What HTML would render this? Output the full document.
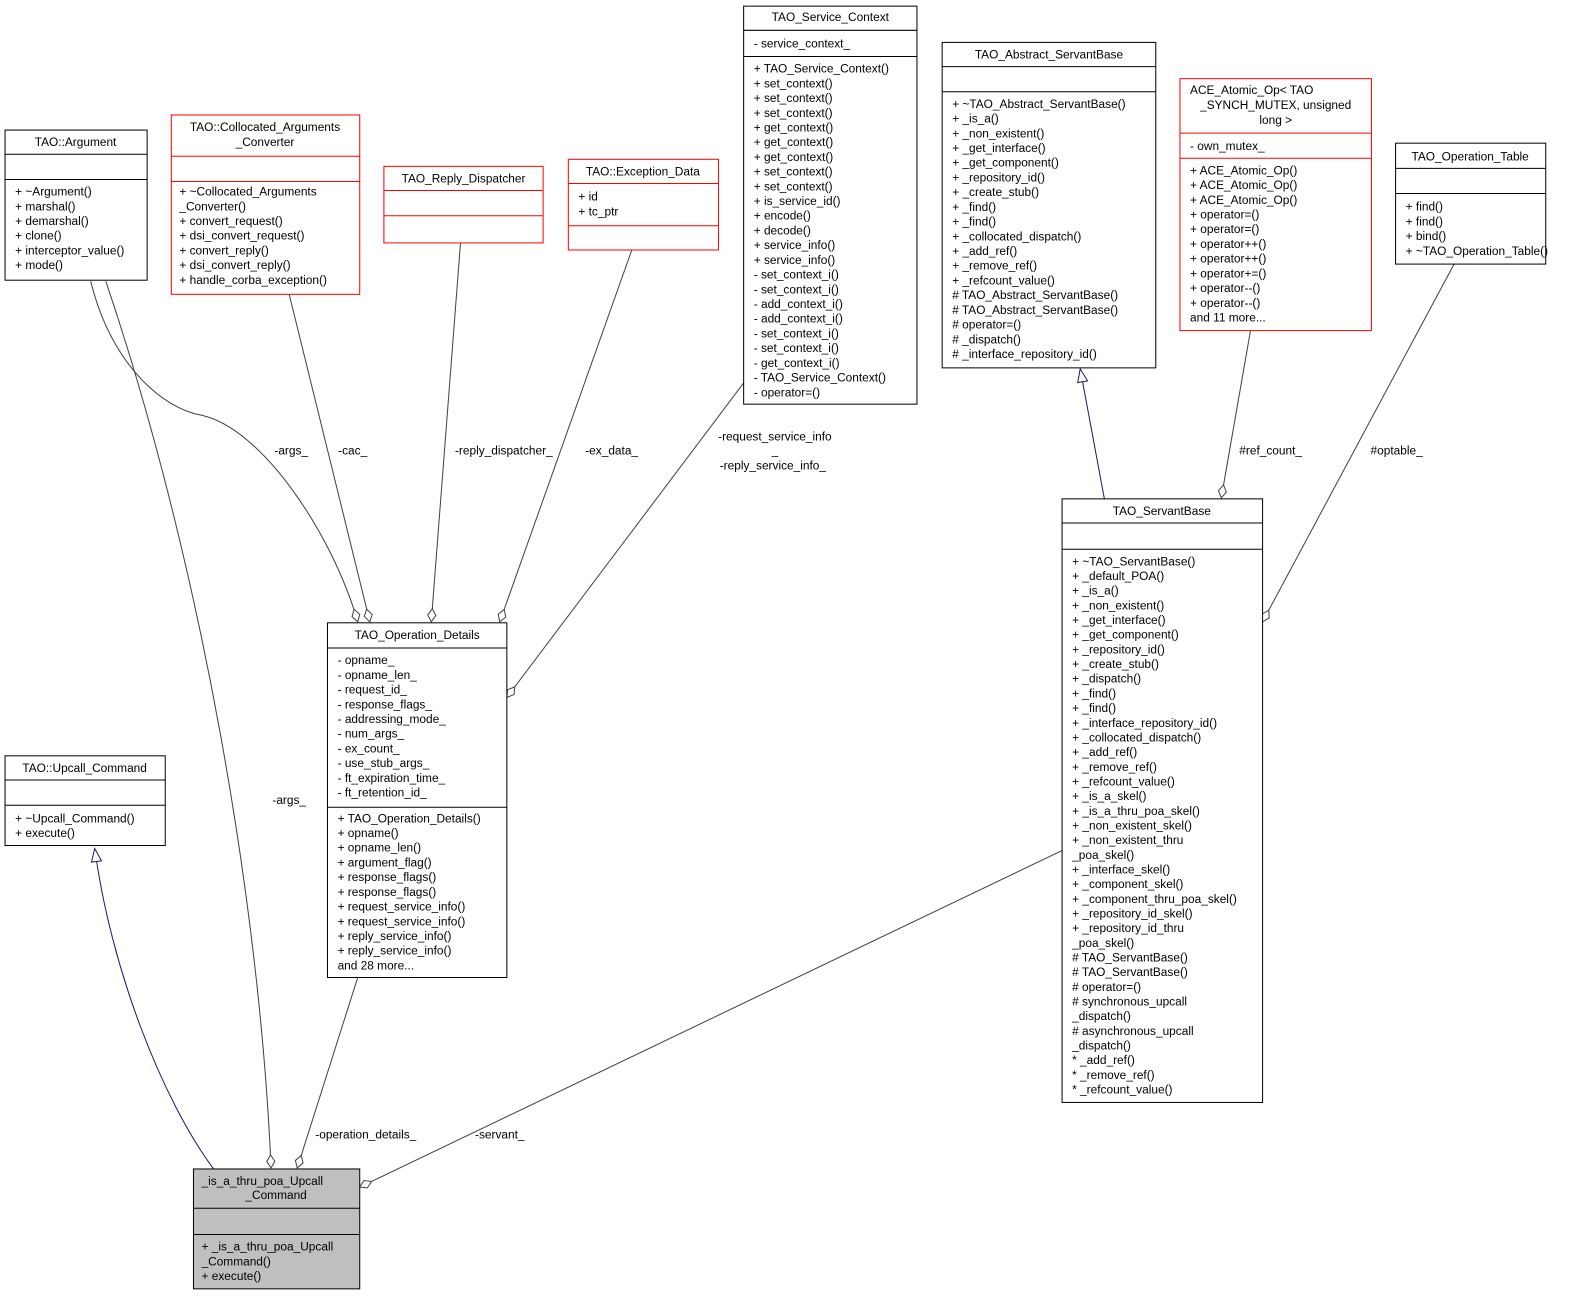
<!DOCTYPE html>
<html><head><meta charset="utf-8"><style>
html,body{margin:0;padding:0;background:#fff;}
svg{display:block;}
text{font-family:"Liberation Sans",sans-serif;font-size:11.8px;fill:#000;}
.c{text-anchor:middle;}
</style></head><body>
<svg width="1580" height="1296" viewBox="0 0 1568 1286" xmlns="http://www.w3.org/2000/svg">
<defs>
<marker id="dm" markerWidth="16" markerHeight="10" refX="14" refY="5" orient="auto" markerUnits="userSpaceOnUse"><path d="M1,5 L7.5,1 L14,5 L7.5,9 Z" fill="#fff" stroke="#404040" stroke-width="1"/></marker>
<marker id="tr" markerWidth="16" markerHeight="12" refX="14" refY="6" orient="auto" markerUnits="userSpaceOnUse"><path d="M1,1 L14,6 L1,11 Z" fill="#fff" stroke="#191970" stroke-width="1"/></marker>
</defs>
<g fill="none" stroke-width="1">
<path d="M212,1160 C160,1090 110,960 94,842" stroke="#191970" marker-end="url(#tr)"/>
<path d="M1096,495 L1072,366" stroke="#191970" marker-end="url(#tr)"/>
<g stroke="#404040">
<path d="M105,279 C200,560 258,900 269,1159" marker-end="url(#dm)"/>
<path d="M90,279 C110,360 160,405 200,412 C260,425 330,530 355,617" marker-end="url(#dm)"/>
<path d="M287,292 L367,617" marker-end="url(#dm)"/>
<path d="M457,241 L428,617" marker-end="url(#dm)"/>
<path d="M627,248 L496,617" marker-end="url(#dm)"/>
<path d="M738,380 L503,692" marker-end="url(#dm)"/>
<path d="M1241,328 L1212,494" marker-end="url(#dm)"/>
<path d="M1443,262 L1253,617" marker-end="url(#dm)"/>
<path d="M1054,844 L357,1178" marker-end="url(#dm)"/>
<path d="M355,970 L295,1159" marker-end="url(#dm)"/>
</g>
</g>
<text x="287" y="798" class="c">-args_</text>
<text x="289" y="451" class="c">-args_</text>
<text x="350" y="451" class="c">-cac_</text>
<text x="500" y="451" class="c">-reply_dispatcher_</text>
<text x="607" y="451" class="c">-ex_data_</text>
<text x="769" y="437" class="c">-request_service_info</text>
<text x="769" y="451" class="c">_</text>
<text x="767" y="466" class="c">-reply_service_info_</text>
<text x="1261" y="451" class="c">#ref_count_</text>
<text x="1386" y="451" class="c">#optable_</text>
<text x="496" y="1130" class="c">-servant_</text>
<text x="363" y="1130" class="c">-operation_details_</text>

<g fill="#fff" stroke="#000">
<rect x="5" y="129" width="141" height="149"/><line x1="5" y1="153" x2="146" y2="153"/><line x1="5" y1="178" x2="146" y2="178"/>
<rect x="5" y="750" width="159" height="89"/><line x1="5" y1="774" x2="164" y2="774"/><line x1="5" y1="799" x2="164" y2="799"/>
<rect x="738" y="6" width="172" height="395"/><line x1="738" y1="30" x2="910" y2="30"/><line x1="738" y1="56" x2="910" y2="56"/>
<rect x="935" y="42" width="212" height="323"/><line x1="935" y1="66" x2="1147" y2="66"/><line x1="935" y1="91" x2="1147" y2="91"/>
<rect x="1385" y="142" width="149" height="120"/><line x1="1385" y1="167" x2="1534" y2="167"/><line x1="1385" y1="192" x2="1534" y2="192"/>
<rect x="1054" y="495" width="199" height="599"/><line x1="1054" y1="519" x2="1253" y2="519"/><line x1="1054" y1="545" x2="1253" y2="545"/>
<rect x="325" y="618" width="178" height="352"/><line x1="325" y1="643" x2="503" y2="643"/><line x1="325" y1="801" x2="503" y2="801"/>
<rect x="192" y="1160" width="165" height="119" fill="#bfbfbf"/><line x1="192" y1="1199" x2="357" y2="1199"/><line x1="192" y1="1225" x2="357" y2="1225"/>
</g>
<g fill="#fff" stroke="#ff0000">
<rect x="170" y="114" width="187" height="178"/><line x1="170" y1="155" x2="357" y2="155"/><line x1="170" y1="180" x2="357" y2="180"/>
<rect x="381" y="165" width="158" height="76"/><line x1="381" y1="189" x2="539" y2="189"/><line x1="381" y1="214" x2="539" y2="214"/>
<rect x="564" y="158" width="149" height="90"/><line x1="564" y1="182" x2="713" y2="182"/><line x1="564" y1="224" x2="713" y2="224"/>
<rect x="1171" y="78" width="190" height="250"/><line x1="1171" y1="132" x2="1361" y2="132"/><line x1="1171" y1="157" x2="1361" y2="157"/>
</g>

<text x="75" y="145" class="c">TAO::Argument</text>
<text x="15" y="194"><tspan x="15">+ ~Argument()</tspan><tspan x="15" dy="14.6">+ marshal()</tspan><tspan x="15" dy="14.6">+ demarshal()</tspan><tspan x="15" dy="14.6">+ clone()</tspan><tspan x="15" dy="14.6">+ interceptor_value()</tspan><tspan x="15" dy="14.6">+ mode()</tspan></text>

<text x="263" y="130" class="c">TAO::Collocated_Arguments</text>
<text x="263" y="145" class="c">_Converter</text>
<text x="178" y="194"><tspan x="178">+ ~Collocated_Arguments</tspan><tspan x="178" dy="14.6">_Converter()</tspan><tspan x="178" dy="14.6">+ convert_request()</tspan><tspan x="178" dy="14.6">+ dsi_convert_request()</tspan><tspan x="178" dy="14.6">+ convert_reply()</tspan><tspan x="178" dy="14.6">+ dsi_convert_reply()</tspan><tspan x="178" dy="14.6">+ handle_corba_exception()</tspan></text>

<text x="460" y="181" class="c">TAO_Reply_Dispatcher</text>

<text x="638" y="174" class="c">TAO::Exception_Data</text>
<text x="574" y="199"><tspan x="574">+ id</tspan><tspan x="574" dy="14.6">+ tc_ptr</tspan></text>

<text x="824" y="21" class="c">TAO_Service_Context</text>
<text x="748" y="47">- service_context_</text>
<text x="748" y="72"><tspan x="748">+ TAO_Service_Context()</tspan><tspan x="748" dy="14.6">+ set_context()</tspan><tspan x="748" dy="14.6">+ set_context()</tspan><tspan x="748" dy="14.6">+ set_context()</tspan><tspan x="748" dy="14.6">+ get_context()</tspan><tspan x="748" dy="14.6">+ get_context()</tspan><tspan x="748" dy="14.6">+ get_context()</tspan><tspan x="748" dy="14.6">+ set_context()</tspan><tspan x="748" dy="14.6">+ set_context()</tspan><tspan x="748" dy="14.6">+ is_service_id()</tspan><tspan x="748" dy="14.6">+ encode()</tspan><tspan x="748" dy="14.6">+ decode()</tspan><tspan x="748" dy="14.6">+ service_info()</tspan><tspan x="748" dy="14.6">+ service_info()</tspan><tspan x="748" dy="14.6">- set_context_i()</tspan><tspan x="748" dy="14.6">- set_context_i()</tspan><tspan x="748" dy="14.6">- add_context_i()</tspan><tspan x="748" dy="14.6">- add_context_i()</tspan><tspan x="748" dy="14.6">- set_context_i()</tspan><tspan x="748" dy="14.6">- set_context_i()</tspan><tspan x="748" dy="14.6">- get_context_i()</tspan><tspan x="748" dy="14.6">- TAO_Service_Context()</tspan><tspan x="748" dy="14.6">- operator=()</tspan></text>

<text x="1041" y="58" class="c">TAO_Abstract_ServantBase</text>
<text x="945" y="107"><tspan x="945">+ ~TAO_Abstract_ServantBase()</tspan><tspan x="945" dy="14.6">+ _is_a()</tspan><tspan x="945" dy="14.6">+ _non_existent()</tspan><tspan x="945" dy="14.6">+ _get_interface()</tspan><tspan x="945" dy="14.6">+ _get_component()</tspan><tspan x="945" dy="14.6">+ _repository_id()</tspan><tspan x="945" dy="14.6">+ _create_stub()</tspan><tspan x="945" dy="14.6">+ _find()</tspan><tspan x="945" dy="14.6">+ _find()</tspan><tspan x="945" dy="14.6">+ _collocated_dispatch()</tspan><tspan x="945" dy="14.6">+ _add_ref()</tspan><tspan x="945" dy="14.6">+ _remove_ref()</tspan><tspan x="945" dy="14.6">+ _refcount_value()</tspan><tspan x="945" dy="14.6"># TAO_Abstract_ServantBase()</tspan><tspan x="945" dy="14.6"># TAO_Abstract_ServantBase()</tspan><tspan x="945" dy="14.6"># operator=()</tspan><tspan x="945" dy="14.6"># _dispatch()</tspan><tspan x="945" dy="14.6"># _interface_repository_id()</tspan></text>

<text x="1181" y="93">ACE_Atomic_Op&lt; TAO</text>
<text x="1266" y="108" class="c">_SYNCH_MUTEX, unsigned</text>
<text x="1266" y="123" class="c">long &gt;</text>
<text x="1181" y="149">- own_mutex_</text>
<text x="1181" y="173"><tspan x="1181">+ ACE_Atomic_Op()</tspan><tspan x="1181" dy="14.6">+ ACE_Atomic_Op()</tspan><tspan x="1181" dy="14.6">+ ACE_Atomic_Op()</tspan><tspan x="1181" dy="14.6">+ operator=()</tspan><tspan x="1181" dy="14.6">+ operator=()</tspan><tspan x="1181" dy="14.6">+ operator++()</tspan><tspan x="1181" dy="14.6">+ operator++()</tspan><tspan x="1181" dy="14.6">+ operator+=()</tspan><tspan x="1181" dy="14.6">+ operator--()</tspan><tspan x="1181" dy="14.6">+ operator--()</tspan><tspan x="1181" dy="14.6">and 11 more...</tspan></text>

<text x="1459" y="159" class="c">TAO_Operation_Table</text>
<text x="1395" y="209"><tspan x="1395">+ find()</tspan><tspan x="1395" dy="14.6">+ find()</tspan><tspan x="1395" dy="14.6">+ bind()</tspan><tspan x="1395" dy="14.6">+ ~TAO_Operation_Table()</tspan></text>

<text x="1153" y="511" class="c">TAO_ServantBase</text>
<text x="1064" y="561"><tspan x="1064">+ ~TAO_ServantBase()</tspan><tspan x="1064" dy="14.56">+ _default_POA()</tspan><tspan x="1064" dy="14.56">+ _is_a()</tspan><tspan x="1064" dy="14.56">+ _non_existent()</tspan><tspan x="1064" dy="14.56">+ _get_interface()</tspan><tspan x="1064" dy="14.56">+ _get_component()</tspan><tspan x="1064" dy="14.56">+ _repository_id()</tspan><tspan x="1064" dy="14.56">+ _create_stub()</tspan><tspan x="1064" dy="14.56">+ _dispatch()</tspan><tspan x="1064" dy="14.56">+ _find()</tspan><tspan x="1064" dy="14.56">+ _find()</tspan><tspan x="1064" dy="14.56">+ _interface_repository_id()</tspan><tspan x="1064" dy="14.56">+ _collocated_dispatch()</tspan><tspan x="1064" dy="14.56">+ _add_ref()</tspan><tspan x="1064" dy="14.56">+ _remove_ref()</tspan><tspan x="1064" dy="14.56">+ _refcount_value()</tspan><tspan x="1064" dy="14.56">+ _is_a_skel()</tspan><tspan x="1064" dy="14.56">+ _is_a_thru_poa_skel()</tspan><tspan x="1064" dy="14.56">+ _non_existent_skel()</tspan><tspan x="1064" dy="14.56">+ _non_existent_thru</tspan><tspan x="1064" dy="14.56">_poa_skel()</tspan><tspan x="1064" dy="14.56">+ _interface_skel()</tspan><tspan x="1064" dy="14.56">+ _component_skel()</tspan><tspan x="1064" dy="14.56">+ _component_thru_poa_skel()</tspan><tspan x="1064" dy="14.56">+ _repository_id_skel()</tspan><tspan x="1064" dy="14.56">+ _repository_id_thru</tspan><tspan x="1064" dy="14.56">_poa_skel()</tspan><tspan x="1064" dy="14.56"># TAO_ServantBase()</tspan><tspan x="1064" dy="14.56"># TAO_ServantBase()</tspan><tspan x="1064" dy="14.56"># operator=()</tspan><tspan x="1064" dy="14.56"># synchronous_upcall</tspan><tspan x="1064" dy="14.56">_dispatch()</tspan><tspan x="1064" dy="14.56"># asynchronous_upcall</tspan><tspan x="1064" dy="14.56">_dispatch()</tspan><tspan x="1064" dy="14.56">* _add_ref()</tspan><tspan x="1064" dy="14.56">* _remove_ref()</tspan><tspan x="1064" dy="14.56">* _refcount_value()</tspan></text>

<text x="414" y="634" class="c">TAO_Operation_Details</text>
<text x="335" y="659"><tspan x="335">- opname_</tspan><tspan x="335" dy="14.6">- opname_len_</tspan><tspan x="335" dy="14.6">- request_id_</tspan><tspan x="335" dy="14.6">- response_flags_</tspan><tspan x="335" dy="14.6">- addressing_mode_</tspan><tspan x="335" dy="14.6">- num_args_</tspan><tspan x="335" dy="14.6">- ex_count_</tspan><tspan x="335" dy="14.6">- use_stub_args_</tspan><tspan x="335" dy="14.6">- ft_expiration_time_</tspan><tspan x="335" dy="14.6">- ft_retention_id_</tspan></text>
<text x="335" y="816"><tspan x="335">+ TAO_Operation_Details()</tspan><tspan x="335" dy="14.6">+ opname()</tspan><tspan x="335" dy="14.6">+ opname_len()</tspan><tspan x="335" dy="14.6">+ argument_flag()</tspan><tspan x="335" dy="14.6">+ response_flags()</tspan><tspan x="335" dy="14.6">+ response_flags()</tspan><tspan x="335" dy="14.6">+ request_service_info()</tspan><tspan x="335" dy="14.6">+ request_service_info()</tspan><tspan x="335" dy="14.6">+ reply_service_info()</tspan><tspan x="335" dy="14.6">+ reply_service_info()</tspan><tspan x="335" dy="14.6">and 28 more...</tspan></text>

<text x="84" y="766" class="c">TAO::Upcall_Command</text>
<text x="15" y="816"><tspan x="15">+ ~Upcall_Command()</tspan><tspan x="15" dy="14.6">+ execute()</tspan></text>

<text x="200" y="1176">_is_a_thru_poa_Upcall</text>
<text x="274" y="1190" class="c">_Command</text>
<text x="200" y="1241"><tspan x="200">+ _is_a_thru_poa_Upcall</tspan><tspan x="200" dy="14.6">_Command()</tspan><tspan x="200" dy="14.6">+ execute()</tspan></text>
</svg>
</body></html>
